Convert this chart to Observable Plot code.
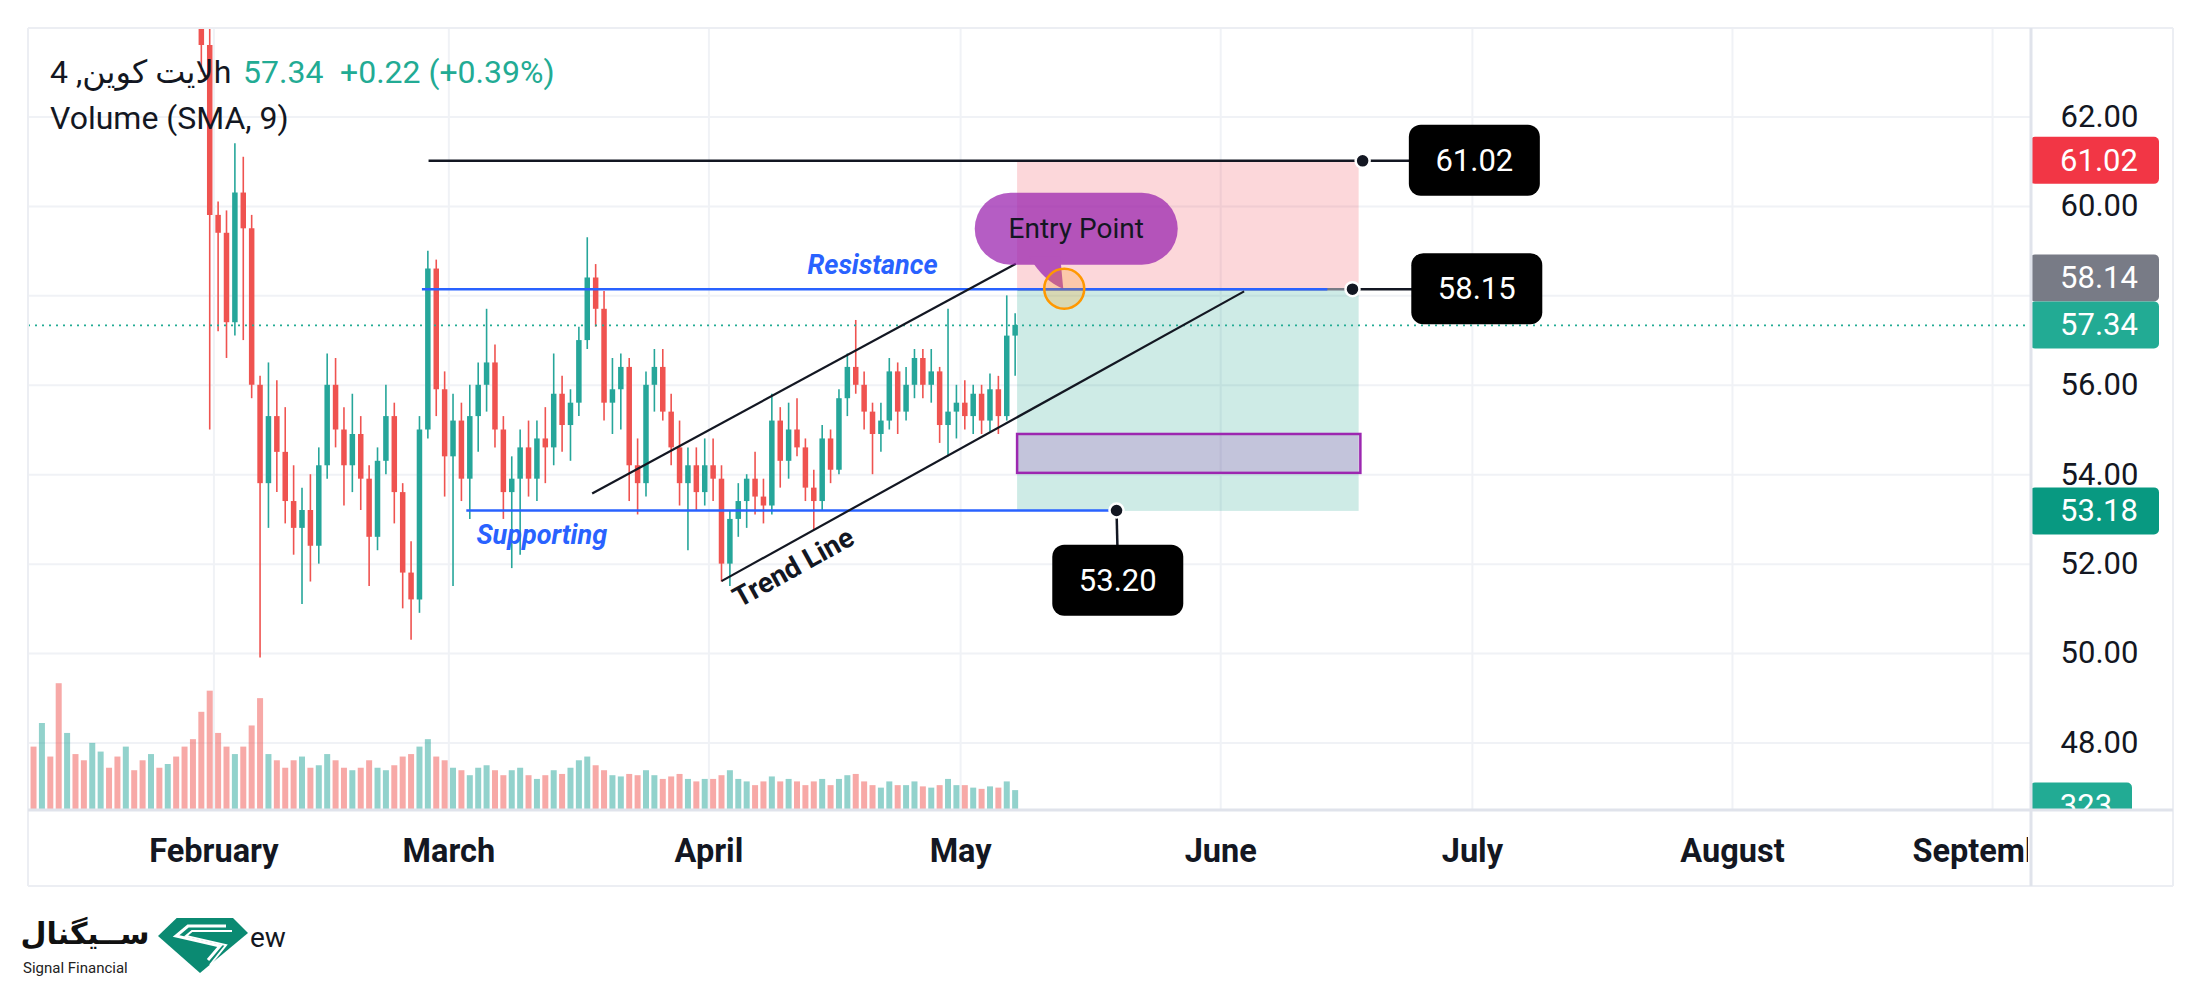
<!DOCTYPE html>
<html><head><meta charset="utf-8">
<script src="https://cdn.jsdelivr.net/npm/d3@7"></script>
<script src="https://cdn.jsdelivr.net/npm/@observablehq/plot@0.6"></script>
<style>
html,body{margin:0;padding:0;background:#fff;}
#wrap{position:relative;width:2201px;height:982px;overflow:hidden;background:#fff;}
#logo{position:absolute;left:0;top:900px;}
</style></head>
<body><div id="wrap"><div id="chart"></div>
<div id="logo">
<svg width="320" height="82" viewBox="0 0 320 82">
  <text x="85" y="44" text-anchor="middle" font-family="'DejaVu Sans', sans-serif" font-weight="bold" font-size="30" fill="#111">ســیگنال</text>
  <text x="23" y="73" font-family="Roboto, sans-serif" font-size="15" fill="#222">Signal Financial</text>
  <g transform="translate(158,18)">
    <polygon points="0,18 18.7,0 75,0 90,15 42,55" fill="#0b8a72"/>
    <path d="M68,8 H30 L18,18 L62,28 L50,42" fill="none" stroke="#fff" stroke-width="3"/>
    <path d="M74,13 H34 L28,18 L68,27 L52,47" fill="none" stroke="#fff" stroke-width="2"/>
  </g>
  <text x="250" y="47" font-family="Roboto, sans-serif" font-size="28" fill="#131722">ew</text>
</svg>
</div></div>
<script>
const FONT = "Roboto, 'DejaVu Sans', sans-serif";
const UP = "#26a69a", DOWN = "#ef5350";

// ---- price candles (daily, from Jan 30) : [open, high, low, close]
const candleStart = "2023-01-30";
const ohlcJan = [[65.0,66.5,63.0,63.6],[63.6,64.5,55.0,59.8]];
const ohlcFeb = [
 [59.8,60.1,57.2,59.4],[59.4,59.9,56.6,57.4],[57.4,61.4,57.1,60.3],[60.3,61.1,57.0,59.5],[59.5,59.8,55.7,56.0],
 [56.0,56.2,49.9,53.8],[53.8,56.5,52.8,55.3],[55.3,56.1,53.6,54.5],[54.5,55.5,52.9,53.4],[53.4,54.2,52.2,52.8],
 [52.8,53.7,51.1,53.2],[53.2,54.0,51.6,52.4],[52.4,54.6,52.0,54.2],[54.2,56.7,53.9,56.0],[56.0,56.6,54.6,55.0],
 [55.0,55.5,53.3,54.2],[54.2,55.8,53.6,54.9],[54.9,55.3,53.2,53.9],[53.9,54.2,51.5,52.6],[52.6,54.6,52.3,54.3],
 [54.3,56.0,54.0,55.3],[55.3,55.6,52.9,53.6],[53.6,53.8,51.0,51.8],[51.8,52.5,50.3,51.2],[51.2,55.3,50.9,55.0],
 [55.0,59.0,54.8,58.6],[58.6,58.8,55.3,55.9],[55.9,56.3,53.5,54.4]];
const ohlcMar = [
 [54.4,55.8,51.5,55.2],[55.2,55.6,53.4,53.9],[53.9,56.0,53.0,55.3],[55.3,56.5,54.5,56.0],[56.0,57.7,55.4,56.5],
 [56.5,56.9,54.6,55.0],[55.0,55.3,53.0,53.6],[53.6,54.4,51.9,53.9],[53.9,55.0,52.2,54.6],[54.6,55.2,53.5,53.9],
 [53.9,55.2,53.4,54.8],[54.8,55.5,53.8,54.6],[54.6,56.7,54.2,55.8],[55.8,56.2,54.5,55.1],[55.1,55.9,54.3,55.6],
 [55.6,57.3,55.3,57.0],[57.0,59.3,56.8,58.4],[58.4,58.7,57.3,57.7],[57.7,58.1,55.2,55.6],[55.6,56.6,54.9,55.9],
 [55.9,56.7,55.0,56.4],[56.4,56.6,53.4,54.2],[54.2,54.8,53.1,53.8],[53.8,56.3,53.5,56.0],[56.0,56.8,55.4,56.4],
 [56.4,56.8,55.2,55.4],[55.4,55.8,54.2,54.6],[54.6,55.2,53.3,53.8],[53.8,54.6,52.3,54.2],[54.2,54.6,53.2,53.6],
 [53.6,54.8,53.3,54.2]];
const ohlcApr = [
 [54.2,54.8,53.4,53.9],[53.9,54.2,51.6,52.0],[52.0,53.2,51.5,53.0],[53.0,53.8,52.6,53.4],[53.4,54.0,52.8,53.9],
 [53.9,54.5,53.1,53.5],[53.5,53.9,52.9,53.3],[53.3,55.8,53.1,55.2],[55.2,55.5,53.7,54.3],[54.3,55.6,53.9,55.0],
 [55.0,55.7,54.4,54.6],[54.6,54.8,53.4,53.7],[53.7,54.1,52.75,53.4],[53.4,55.1,53.2,54.8],[54.8,55.0,53.8,54.1],
 [54.1,55.9,54.0,55.7],[55.7,56.7,55.3,56.4],[56.4,57.45,55.8,56.0],[56.0,56.3,55.0,55.4],[55.4,55.6,54.0,54.9],
 [54.9,55.6,54.5,55.2],[55.2,56.6,55.0,56.3],[56.3,56.5,54.9,55.4],[55.4,56.4,55.2,56.0],[56.0,56.8,55.7,56.6],
 [56.6,56.8,55.7,56.0],[56.0,56.8,55.6,56.3],[56.3,56.4,54.7,55.1],[55.1,57.7,54.4,55.4],[55.4,56.0,54.8,55.6]];
const ohlcMay = [
 [55.6,56.1,55.0,55.3],[55.3,56.0,54.9,55.8],[55.8,56.0,54.9,55.2],[55.2,56.25,54.95,55.9],[55.9,56.2,54.9,55.3],
 [55.3,58.0,55.2,57.1],[57.1,57.6,56.2,57.34]];

// ---- volume (daily, from Jan 10)
const volStart = "2023-01-10";
const volJan = [5100,7000,4300,10200,6200,4500,4000,5400,4700,3400,4300,5100,3200,4000,4500,3400,3700,4300,5100,5700,7900,9600];
const volFeb = [6200,5100,4500,5100,6800,9000,4500,4000,3400,4000,4300,3400,3600,4500,4000,3400,3200,3400,4000,3400,3200,3600,4300,4500,5100,5700,4300,4000];
const volMar = [3400,3200,2800,3400,3600,3200,2800,3200,3400,2800,2500,2800,3200,2900,3400,4000,4300,3600,3200,2800,2700,2900,2800,3200,2800,2500,2700,2900,2500,2300,2500];
const volApr = [2500,2800,3200,2500,2300,2000,2300,2700,2300,2500,2300,2000,2300,2500,2000,2500,2800,2900,2300,2000,1800,2300,2000,2000,2300,1900,1800,2000,2500,2000];
const volMay = [2000,1800,1700,1900,1800,2300,1600];
const earlyVolDir = "DUDDUDDUUDDUDDUDUDDD"; // Jan 10 – Jan 29 (before first visible candle)
const lastVolume = 323;

// ---- axes
const monthTicks = ["2023-02-01","2023-03-01","2023-04-01","2023-05-01","2023-06-01","2023-07-01","2023-08-01","2023-09-01"];
const priceTicks = [48,50,52,54,56,58,60,62];
const priceLabels = [48,50,52,54,56,60,62]; // 58.00 sits behind the 58.14 / 57.34 tags
const xDomain = ["2023-01-09T21:36Z","2023-09-05T15:22Z"];
const yDomain = [46.49, 63.98];

// ---- right-axis price tags
const priceTags = [
  {price:61.02, label:"61.02", color:"#f23645"},
  {price:58.14, label:"58.14", color:"#787b86"},
  {price:57.34, label:"57.34", color:"#22ab94"},
  {price:53.18, label:"53.18", color:"#089981"}];
const lastPrice = 57.34;

// ---- drawings
const targetZone = {from:"2023-05-07T19:00Z", to:"2023-06-17T12:00Z", lo:58.15, hi:61.02};
const stopZone   = {from:"2023-05-07T19:00Z", to:"2023-06-17T12:00Z", lo:53.18, hi:58.15};
const boxZone    = {from:"2023-05-07T19:00Z", to:"2023-06-17T17:00Z", lo:54.03, hi:54.90};
const targetLine = [{from:"2023-02-26T14:00Z", to:"2023-06-17T22:00Z", price:61.02}];
const blueLevels = [
  {from:"2023-02-25T19:00Z", to:"2023-06-13T17:00Z", price:58.15},
  {from:"2023-03-03T02:00Z", to:"2023-05-19T14:00Z", price:53.20}];
const entryLine = [{from:"2023-05-07T19:00Z", to:"2023-06-16T17:00Z", price:58.15}];
const trendLines = [
  {x1:"2023-03-18T02:00Z", y1:53.58, x2:"2023-05-07T14:00Z", y2:58.72},
  {x1:"2023-04-02T12:00Z", y1:51.62, x2:"2023-06-03T19:00Z", y2:58.10}];
const levelNames = [
  {text:"Resistance", date:"2023-04-20T12:00Z", price:58.68},
  {text:"Supporting", date:"2023-03-12T02:00Z", price:52.64}];
const trendName = [{text:"Trend Line", date:"2023-04-11T02:00Z", price:51.92}];
const priceCallouts = [
  {text:"61.02", anchorDate:"2023-06-17T22:00Z", anchorPrice:61.02, boxDate:"2023-07-01T07:00Z", boxPrice:61.02},
  {text:"58.15", anchorDate:"2023-06-16T17:00Z", anchorPrice:58.15, boxDate:"2023-07-01T14:00Z", boxPrice:58.15},
  {text:"53.20", anchorDate:"2023-05-19T14:00Z", anchorPrice:53.20, boxDate:"2023-05-19T19:00Z", boxPrice:51.63}];
const entry = {date:"2023-05-13T07:00Z", price:58.15, text:"Entry Point"};

// ---- build tables
const D = s => new Date(s);
const mid = d => d3.utcHour.offset(d, 12);
const rows = [...ohlcJan, ...ohlcFeb, ...ohlcMar, ...ohlcApr, ...ohlcMay];
const candles = rows.map((r, i) => ({date: d3.utcDay.offset(D(candleStart + "T00:00Z"), i), open:r[0], high:r[1], low:r[2], close:r[3]}));
const candleByDay = new Map(candles.map(c => [+c.date, c]));
const volumes = [...volJan, ...volFeb, ...volMar, ...volApr, ...volMay].map((v, i) => {
  const date = d3.utcDay.offset(D(volStart + "T00:00Z"), i);
  const c = candleByDay.get(+date);
  const up = c ? c.close >= c.open : earlyVolDir[i] === "U";
  return {date, v, up};
});
const yBase = yDomain[0];
const volK = 0.000278; // price units per volume unit (overlay height of volume pane)
const candleColor = d => d.close >= d.open ? UP : DOWN;

function overlay(index, scales, values, dim) {
  const {x, y} = scales;
  const L = dim.marginLeft, T = dim.marginTop;
  const R = dim.width - dim.marginRight;
  const B = dim.height - dim.marginBottom;
  const outerR = R + 142, axisB = B + 76;
  const g = d3.create("svg:g").attr("font-family", FONT).attr("text-anchor", "start");

  // callout boxes
  for (const c of priceCallouts) {
    const cx = x(D(c.boxDate)), cy = y(c.boxPrice);
    g.append("rect").attr("x", cx - 65.5).attr("y", cy - 35.5).attr("width", 131).attr("height", 71)
      .attr("rx", 12).attr("fill", "#000");
    g.append("text").attr("x", cx).attr("y", cy).attr("text-anchor", "middle").attr("dominant-baseline", "central")
      .attr("font-size", 31).attr("fill", "#fff").text(c.text);
  }

  // entry callout bubble
  const ex = x(D(entry.date)), ey = y(entry.price);
  const bub = g.append("g").attr("opacity", 0.75);
  bub.append("rect").attr("x", ex - 88.5).attr("y", ey - 96).attr("width", 203).attr("height", 72).attr("rx", 36).attr("fill", "#9c27b0");
  bub.append("path").attr("d", `M${ex},${ey} L${ex-3},${ey-32} L${ex-34},${ey-32} Q${ex-20},${ey-8} ${ex},${ey} Z`).attr("fill", "#9c27b0");
  g.append("text").attr("x", ex + 13).attr("y", ey - 60).attr("text-anchor", "middle").attr("dominant-baseline", "central")
    .attr("font-size", 28).attr("fill", "#131722").text(entry.text);
  g.append("circle").attr("cx", ex + 1).attr("cy", ey).attr("r", 20).attr("fill", "#ff9800").attr("fill-opacity", 0.22)
    .attr("stroke", "#ff9800").attr("stroke-width", 2.5);

  // legend
  g.append("text").attr("x", L + 22).attr("y", T + 44).attr("dominant-baseline", "central").attr("font-size", 32)
    .attr("fill", "#131722").text("لایت کوین, 4h");
  g.append("text").attr("x", L + 215).attr("y", T + 44).attr("dominant-baseline", "central").attr("font-size", 32)
    .attr("fill", "#22ab94").text("57.34");
  g.append("text").attr("x", L + 312).attr("y", T + 44).attr("dominant-baseline", "central").attr("font-size", 32)
    .attr("fill", "#22ab94").text("+0.22 (+0.39%)");
  g.append("text").attr("x", L + 22).attr("y", T + 90).attr("dominant-baseline", "central").attr("font-size", 32)
    .attr("fill", "#131722").text("Volume (SMA, 9)");

  // volume tag (clipped by pane bottom)
  const clipId = "volclip";
  g.append("clipPath").attr("id", clipId).append("rect").attr("x", R - 2).attr("y", T).attr("width", 200).attr("height", B - T);
  const vy = y(yBase + lastVolume * volK);
  const vt = g.append("g").attr("clip-path", `url(#${clipId})`);
  vt.append("rect").attr("x", R - 1).attr("y", vy - 23.5).attr("width", 102).attr("height", 47).attr("rx", 5).attr("fill", "#22ab94");
  vt.append("text").attr("x", R + 55).attr("y", vy).attr("text-anchor", "middle").attr("dominant-baseline", "central")
    .attr("font-size", 31).attr("fill", "#fff").text(String(lastVolume));

  // cover the time-axis row under the price axis (clips "September")
  g.append("rect").attr("x", R - 3).attr("y", B).attr("width", dim.width - R + 3).attr("height", axisB - B + 2).attr("fill", "#fff");

  // price tags with overlap resolution
  const tagH = 47, tagW = 129;
  const tags = priceTags.map(t => ({...t, cy: y(t.price)})).sort((a, b) => a.cy - b.cy);
  for (let i = tags.length - 2; i >= 0; i--) if (tags[i].cy + tagH > tags[i + 1].cy) tags[i].cy = tags[i + 1].cy - tagH;
  for (const t of tags) {
    g.append("rect").attr("x", R - 1).attr("y", t.cy - tagH / 2).attr("width", tagW).attr("height", tagH).attr("rx", 5).attr("fill", t.color);
    g.append("text").attr("x", R + 68).attr("y", t.cy).attr("text-anchor", "middle").attr("dominant-baseline", "central")
      .attr("font-size", 31).attr("fill", "#fff").text(t.label);
  }

  // frame borders
  const line = (x1, y1, x2, y2, w, c) => g.append("line").attr("x1", x1).attr("y1", y1).attr("x2", x2).attr("y2", y2)
    .attr("stroke", c).attr("stroke-width", w);
  line(L, T, outerR, T, 2, "#eceef3");
  line(L, T, L, axisB, 2, "#eceef3");
  line(outerR, T, outerR, axisB, 2, "#eceef3");
  line(L, axisB, outerR, axisB, 2, "#eceef3");
  line(R, T, R, axisB, 3, "#e0e3eb");
  line(L, B, outerR, B, 3, "#e0e3eb");
  return g.node();
}

const chart = Plot.plot({
  width: 2201, height: 982,
  marginLeft: 28, marginRight: 170, marginTop: 28, marginBottom: 172,
  x: {type: "utc", domain: xDomain.map(D), axis: null},
  y: {domain: yDomain, axis: null},
  color: {type: "identity"},
  style: {background: "#fff", overflow: "visible", fontFamily: FONT},
  marks: [
    Plot.gridX(monthTicks.map(D), {stroke: "#f0f2f6", strokeOpacity: 1, strokeWidth: 2}),
    Plot.gridY(priceTicks, {stroke: "#f0f2f6", strokeOpacity: 1, strokeWidth: 2}),
    // position zones
    Plot.rect([targetZone], {x1: d => D(d.from), x2: d => D(d.to), y1: "lo", y2: "hi", fill: "#f23645", fillOpacity: 0.2}),
    Plot.rect([stopZone], {x1: d => D(d.from), x2: d => D(d.to), y1: "lo", y2: "hi", fill: "#089981", fillOpacity: 0.2}),
    Plot.rect([boxZone], {x1: d => D(d.from), x2: d => D(d.to), y1: "lo", y2: "hi", fill: "#9c27b0", fillOpacity: 0.2, stroke: "#9c27b0", strokeWidth: 2.5}),
    // volume
    Plot.ruleX(volumes, {x: d => mid(d.date), y1: () => yBase, y2: d => yBase + d.v * volK, stroke: d => d.up ? UP : DOWN, strokeOpacity: 0.5, strokeWidth: 6, clip: true}),
    // candles
    Plot.ruleX(candles, {x: d => mid(d.date), y1: "low", y2: "high", stroke: candleColor, strokeWidth: 1.6, clip: true}),
    Plot.ruleX(candles, {x: d => mid(d.date), y1: "open", y2: "close", stroke: candleColor, strokeWidth: 5.5, clip: true}),
    // last price dotted line
    Plot.ruleY([lastPrice], {stroke: "#22ab94", strokeWidth: 1.8, strokeDasharray: "2,5"}),
    // drawings
    Plot.link(targetLine, {x1: d => D(d.from), x2: d => D(d.to), y1: "price", y2: "price", stroke: "#131722", strokeWidth: 2.5}),
    Plot.link(entryLine, {x1: d => D(d.from), x2: d => D(d.to), y1: "price", y2: "price", stroke: "#787b86", strokeWidth: 2.5}),
    Plot.link(blueLevels, {x1: d => D(d.from), x2: d => D(d.to), y1: "price", y2: "price", stroke: "#2962ff", strokeWidth: 2.5}),
    Plot.link(trendLines, {x1: d => D(d.x1), x2: d => D(d.x2), y1: "y1", y2: "y2", stroke: "#131722", strokeWidth: 2.2}),
    Plot.text(levelNames, {x: d => D(d.date), y: "price", text: "text", fill: "#2962ff", fontSize: 27, fontWeight: "bold", fontStyle: "italic", fontFamily: FONT}),
    Plot.text(trendName, {x: d => D(d.date), y: "price", text: "text", fill: "#131722", fontSize: 28, fontWeight: "bold", rotate: -29, fontFamily: FONT}),
    // callout connectors and anchors
    Plot.link(priceCallouts, {x1: d => D(d.anchorDate), y1: "anchorPrice", x2: d => D(d.boxDate), y2: "boxPrice", stroke: "#131722", strokeWidth: 2.5}),
    Plot.dot(priceCallouts, {x: d => D(d.anchorDate), y: "anchorPrice", r: 7, fill: "#131722", stroke: "#fff", strokeWidth: 2.5}),
    // axis labels
    Plot.text(monthTicks, {x: d => D(d), frameAnchor: "bottom", dy: 41, text: d => d3.utcFormat("%B")(D(d)), fontSize: 32.5, fontWeight: "bold", fill: "#131722", fontFamily: FONT, lineAnchor: "middle"}),
    Plot.text(priceLabels, {y: d => d, frameAnchor: "right", dx: 68, text: d => d.toFixed(2), fontSize: 31, fill: "#131722", fontFamily: FONT, textAnchor: "middle"}),
    overlay
  ]
});
document.getElementById("chart").appendChild(chart);
</script>
</body></html>
